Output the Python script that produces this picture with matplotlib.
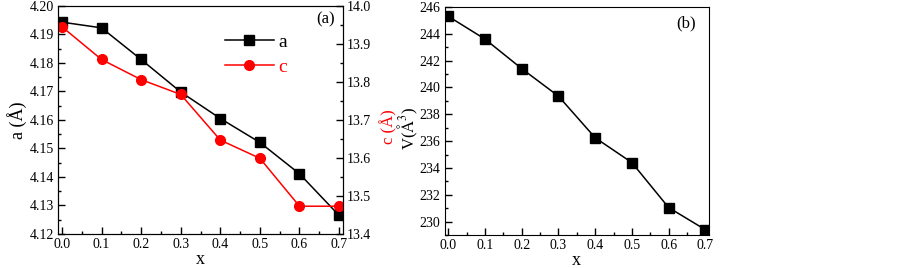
import matplotlib
matplotlib.use('Agg')
import numpy as np
import matplotlib.pyplot as plt
from matplotlib.ticker import MultipleLocator

plt.rcParams['font.family'] = 'Liberation Serif'
plt.rcParams['mathtext.fontset'] = 'stix'

# data
x = [0.0, 0.1, 0.2, 0.3, 0.4, 0.5, 0.6, 0.7]
a_vals = [4.1943, 4.1923, 4.1812, 4.1698, 4.1605, 4.1521, 4.1411, 4.1265]
c_vals = [13.945, 13.859, 13.806, 13.767, 13.647, 13.599, 13.473, 13.473]
v_vals = [245.3, 243.6, 241.4, 239.35, 236.25, 234.4, 231.05, 229.4]

fig = plt.figure(figsize=(9.02, 2.68), dpi=100)

# panel (a)
ax1 = fig.add_axes([0.0643, 0.127, 0.316, 0.851])
ax2 = ax1.twinx()
la, = ax1.plot(x, a_vals, color='black', marker='s', markersize=6.5, lw=1.1, label='a')
lc, = ax2.plot(x, c_vals, color='red', marker='o', markersize=7, lw=1.1, label='c')
ax1.set_xlim(-0.01, 0.71)
ax1.set_ylim(4.12, 4.20)
ax2.set_ylim(13.4, 14.0)
ax1.xaxis.set_major_locator(MultipleLocator(0.1))
ax1.xaxis.set_minor_locator(MultipleLocator(0.05))
ax1.yaxis.set_major_locator(MultipleLocator(0.01))
ax1.yaxis.set_minor_locator(MultipleLocator(0.005))
ax2.yaxis.set_major_locator(MultipleLocator(0.1))
ax2.yaxis.set_minor_locator(MultipleLocator(0.05))
ax1.xaxis.set_major_formatter(plt.FormatStrFormatter('%.1f'))
ax1.yaxis.set_major_formatter(plt.FormatStrFormatter('%.2f'))
ax2.yaxis.set_major_formatter(plt.FormatStrFormatter('%.1f'))
for ax in (ax1, ax2):
    ax.tick_params(which='both', direction='in', labelsize=10, pad=3, width=1)
    ax.tick_params(which='major', length=5)
    ax.tick_params(which='minor', length=2.5)
ax1.set_xlabel('x', fontsize=13, labelpad=0)
ax1.set_ylabel('a (Å)', fontsize=13, labelpad=2)
ax2.set_ylabel('c (Å)', fontsize=12, color='red', va='center')
ax2.yaxis.set_label_coords(1.16, 0.47)
leg = ax1.legend(handles=[la, lc], loc='upper left', bbox_to_anchor=(0.586, 0.88),
                 frameon=False, fontsize=14, handlelength=2.5, labelspacing=0.4,
                 handletextpad=0.26, borderpad=0, borderaxespad=0,
                 labelcolor='linecolor')
ax1.text(0.97, 0.975, '(a)', transform=ax1.transAxes, ha='right', va='top', fontsize=12)

# panel (b)
ax3 = fig.add_axes([0.493, 0.123, 0.293, 0.851])
ax3.plot(x, v_vals, color='black', marker='s', markersize=6.5, lw=1.1)
ax3.set_xlim(-0.01, 0.71)
ax3.set_ylim(229, 246)
ax3.xaxis.set_major_locator(MultipleLocator(0.1))
ax3.xaxis.set_minor_locator(MultipleLocator(0.05))
ax3.yaxis.set_major_locator(MultipleLocator(2))
ax3.yaxis.set_minor_locator(MultipleLocator(1))
ax3.xaxis.set_major_formatter(plt.FormatStrFormatter('%.1f'))
ax3.tick_params(which='both', direction='in', labelsize=10, pad=3, width=1)
ax3.tick_params(which='major', length=5)
ax3.tick_params(which='minor', length=2.5)
ax3.set_xlabel('x', fontsize=13, labelpad=0)
ax3.set_ylabel('V($\\mathrm{\\AA}^3$)', fontsize=12, va='center')
ax3.yaxis.set_label_coords(-0.14, 0.47)
ax3.text(0.95, 0.965, '(b)', transform=ax3.transAxes, ha='right', va='top', fontsize=12)

fig.savefig('out.png', dpi=100)
